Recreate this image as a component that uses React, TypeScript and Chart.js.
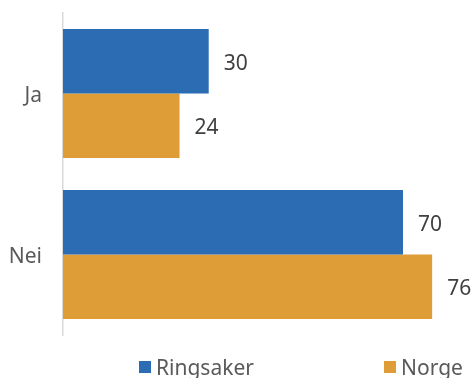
import React, { useEffect, useRef } from "react";
import { Chart, registerables } from "chart.js";

Chart.register(...registerables);

const categories = ["Ja", "Nei"];
const seriesNames = ["Ringsaker", "Norge"];
const ringsaker = [30, 70];
const norge = [24, 76];
const colors = ["#2b6cb3", "#df9d37"];
const FONT = "'Noto Sans', sans-serif";

const valueLabels = {
  id: "valueLabels",
  afterDatasetsDraw(chart: any) {
    const ctx = chart.ctx;
    ctx.save();
    ctx.font = `21px ${FONT}`;
    ctx.fillStyle = "#404040";
    ctx.textAlign = "left";
    ctx.textBaseline = "middle";
    chart.data.datasets.forEach((ds: any, i: number) => {
      const meta = chart.getDatasetMeta(i);
      meta.data.forEach((bar: any, j: number) => {
        ctx.fillText(String(ds.data[j]), bar.x + 15, bar.y + 2.5);
      });
    });
    ctx.restore();
  },
};

export default function App() {
  const ref = useRef<HTMLCanvasElement>(null);
  useEffect(() => {
    document.body.style.margin = "0";
    const chart = new Chart(ref.current!, {
      type: "bar",
      data: {
        labels: categories,
        datasets: [
          { label: seriesNames[0], data: ringsaker, backgroundColor: colors[0] },
          { label: seriesNames[1], data: norge, backgroundColor: colors[1] },
        ],
      },
      options: {
        indexAxis: "y",
        responsive: false,
        animation: false,
        layout: { padding: { top: 13, bottom: 43, right: 4, left: 0 } },
        datasets: { bar: { categoryPercentage: 0.8, barPercentage: 1.0 } },
        scales: {
          x: { display: false, min: 0, max: 84 },
          y: {
            grid: { display: false, drawTicks: false },
            border: { display: true, color: "#d9d9d9", width: 1.5 },
            ticks: {
              color: "#595959",
              font: { family: FONT, size: 21 },
              padding: 21,
              labelOffset: 3,
            },
            afterFit: (axis: any) => {
              axis.width = 63;
              axis.paddingTop = 0;
              axis.paddingBottom = 0;
            },
          },
        },
        plugins: { legend: { display: false }, tooltip: { enabled: false } },
      },
      plugins: [valueLabels],
    });
    return () => chart.destroy();
  }, []);

  const legendItem = (i: number, left: number) => (
    <div
      style={{
        position: "absolute",
        left,
        top: 355,
        display: "flex",
        alignItems: "center",
        fontFamily: FONT,
        fontSize: 21,
        color: "#595959",
        lineHeight: "24px",
        whiteSpace: "nowrap",
      }}
    >
      <span
        style={{
          width: 12,
          height: 12,
          background: colors[i],
          marginRight: 5,
          display: "inline-block",
          position: "relative",
          top: -0.5,
        }}
      />
      {seriesNames[i]}
    </div>
  );

  return (
    <div style={{ position: "relative", width: 475, height: 378, overflow: "hidden" }}>
      <canvas ref={ref} width={475} height={378} style={{ display: "block" }} />
      {legendItem(0, 139)}
      {legendItem(1, 384)}
    </div>
  );
}
